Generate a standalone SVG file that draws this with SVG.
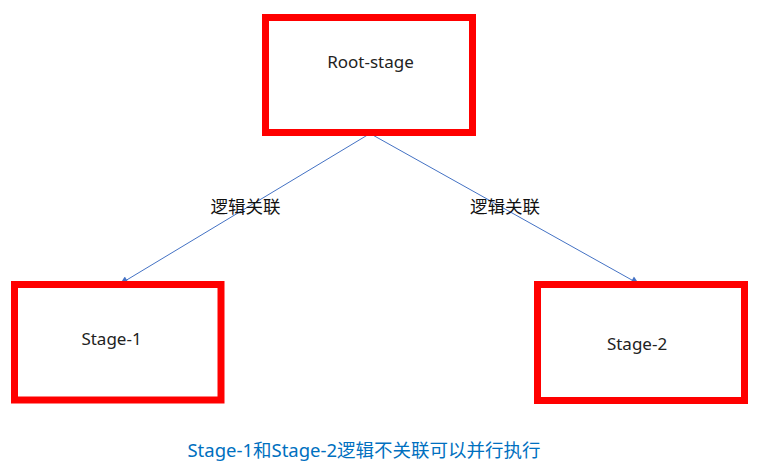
<svg xmlns="http://www.w3.org/2000/svg" width="773" height="474" viewBox="0 0 773 474">
<style>
.box{fill:#fff;stroke:#ff0000;stroke-width:7}
.lbl{font-family:"Noto Sans","Noto Sans CJK SC",sans-serif;font-size:17px;fill:#222;text-anchor:middle}
.elbl{font-family:"Noto Sans CJK SC",sans-serif;font-size:17.5px;fill:#111;text-anchor:middle}
.edge{stroke:#4472c4;stroke-width:1;fill:none}
.note{font-family:"Noto Sans","Noto Sans CJK SC",sans-serif;font-size:18.5px;fill:#0070c0;text-anchor:middle}
</style>
<defs>
<marker id="arr" viewBox="0 0 10 10" refX="10" refY="5" markerWidth="10" markerHeight="8" markerUnits="userSpaceOnUse" orient="auto">
<path d="M0,0 L10,5 L0,10 Z" fill="#4472c4"/>
</marker>
</defs>
<rect width="773" height="474" fill="#fff"/>
<g id="edges">
<line class="edge" x1="370" y1="133.5" x2="120" y2="284" marker-end="url(#arr)"/>
<line class="edge" x1="370" y1="133.5" x2="639" y2="284" marker-end="url(#arr)"/>
<text class="elbl" x="245.5" y="213">逻辑关联</text>
<text class="elbl" x="505" y="213">逻辑关联</text>
</g>
<g id="root">
<rect class="box" x="265.5" y="17.5" width="207" height="115"/>
<text class="lbl" x="370.5" y="68">Root-stage</text>
</g>
<g id="stage1">
<rect class="box" x="14.5" y="284.5" width="206.5" height="115.5"/>
<text class="lbl" x="111.5" y="345">Stage-1</text>
</g>
<g id="stage2">
<rect class="box" x="537.5" y="284.5" width="207" height="116"/>
<text class="lbl" x="637" y="349.5">Stage-2</text>
</g>
<text class="note" x="364" y="457">Stage-1和Stage-2逻辑不关联可以并行执行</text>
</svg>
